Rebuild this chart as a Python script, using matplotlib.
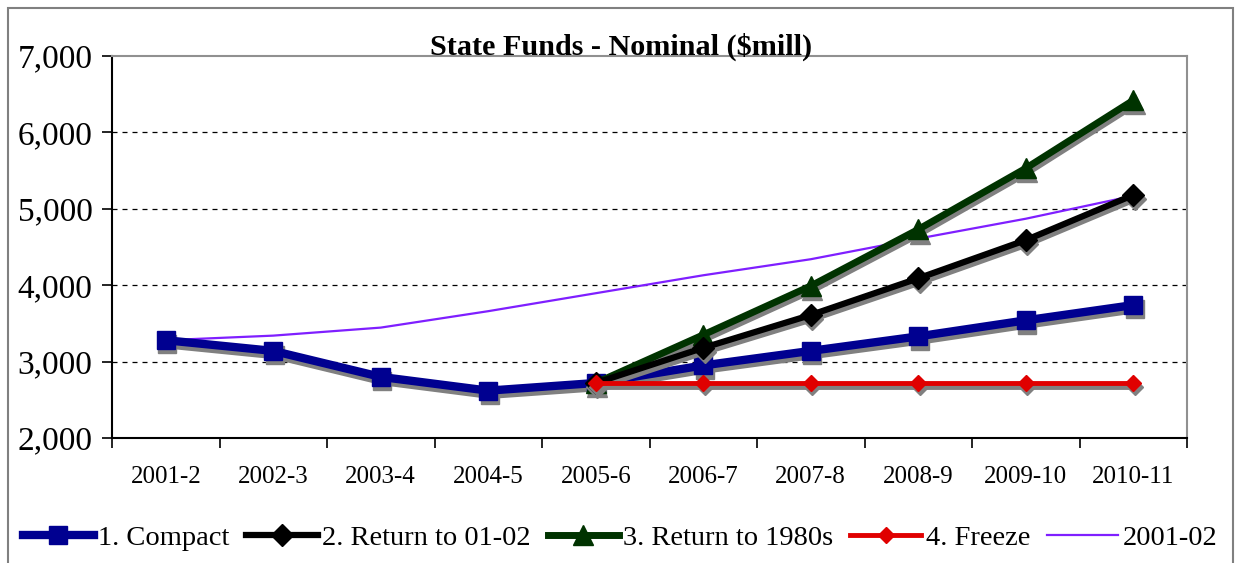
import numpy as np
import matplotlib
matplotlib.use("Agg")
import matplotlib.pyplot as plt
from matplotlib.ticker import FuncFormatter, FixedLocator
from matplotlib.patches import Rectangle
from matplotlib.transforms import ScaledTranslation

# Data ($ millions)
years = ["2001-2", "2002-3", "2003-4", "2004-5", "2005-6",
         "2006-7", "2007-8", "2008-9", "2009-10", "2010-11"]
compact = [3280, 3140, 2800, 2620, 2720, 2950, 3140, 3330, 3540, 3740]
return_0102 = [np.nan, np.nan, np.nan, np.nan, 2720, 3180, 3610, 4090, 4590, 5180]
return_1980s = [np.nan, np.nan, np.nan, np.nan, 2720, 3350, 3990, 4730, 5530, 6420]
freeze = [np.nan, np.nan, np.nan, np.nan, 2720, 2720, 2720, 2720, 2720, 2720]
base_2001 = [3280, 3340, 3445, 3660, 3895, 4130, 4340, 4610, 4870, 5170]

SERIF = ["Liberation Serif", "DejaVu Serif"]
plt.rcParams["font.family"] = SERIF

fig = plt.figure(figsize=(12.35, 5.63), dpi=100)
ax = fig.add_axes([112 / 1235, 1 - 438 / 563, (1187 - 112) / 1235, (438 - 56) / 563])

# outer chart border
fig.patches.append(Rectangle((8 / 1235, -0.01), (1233 - 8) / 1235, 1 - 8 / 563 + 0.01,
                             transform=fig.transFigure, fill=False,
                             edgecolor="#808080", linewidth=1.5))

x = np.arange(len(years))
# excel-style drop shadow: same series in gray, shifted right/down
shadow_tr = ax.transData + ScaledTranslation(1 / 72, -3 / 72, fig.dpi_scale_trans)


def series(y, color, lw, marker, ms, z, label):
    ax.plot(x, y, color="#808080", linewidth=lw, marker=marker, markersize=ms,
            zorder=z - 0.5, transform=shadow_tr)
    ax.plot(x, y, color=color, linewidth=lw, marker=marker, markersize=ms,
            zorder=z, label=label)


ax.plot(x, base_2001, color="#7F1FFF", linewidth=1.6, zorder=2, label="2001-02")
series(compact, "#000090", 6, "s", 13, 3, "1. Compact")
series(return_1980s, "#003300", 5, "^", 15, 4, "3. Return to 1980s")
series(return_0102, "black", 4.5, "D", 11, 5, "2. Return to 01-02")
series(freeze, "#E00000", 3.5, "D", 8, 6, "4. Freeze")

ax.set_xlim(-0.5, len(years) - 0.5)
ax.set_ylim(2000, 7000)
ax.set_yticks([2000, 3000, 4000, 5000, 6000, 7000])
ax.yaxis.set_major_formatter(FuncFormatter(lambda v, p: f"{int(v):,}"))
ax.tick_params(axis="y", labelsize=24, direction="out", length=7, width=1.2, pad=7)

# category boundaries as ticks, labels at centers
ax.xaxis.set_major_locator(FixedLocator(np.arange(-0.5, len(years), 1.0)))
ax.xaxis.set_minor_locator(FixedLocator(x))
ax.set_xticklabels([], minor=False)
ax.set_xticklabels(years, minor=True)
ax.tick_params(axis="x", which="major", direction="out", length=7, width=1.2)
ax.tick_params(axis="x", which="minor", length=0, labelsize=18, pad=20)

for g in [3000, 4000, 5000, 6000]:
    ax.axhline(g, color="black", linestyle=(0, (4, 4)), linewidth=0.9, zorder=1)

ax.spines["left"].set_color("black")
ax.spines["bottom"].set_color("black")
ax.spines["top"].set_color("#909090")
ax.spines["right"].set_color("#909090")
for s in ax.spines.values():
    s.set_linewidth(1.5)

fig.text(621 / 1235, 1 - 47 / 563, "State Funds - Nominal (\\$mill)", ha="center",
         va="center", fontsize=21.7, fontweight="bold", family=SERIF)

handles, labels = ax.get_legend_handles_labels()
order = ["1. Compact", "2. Return to 01-02", "3. Return to 1980s", "4. Freeze", "2001-02"]
hmap = dict(zip(labels, handles))
fig.legend([hmap[k] for k in order], order, loc="center",
           bbox_to_anchor=(620 / 1235, 1 - 538 / 563), ncol=5, frameon=False,
           prop={"family": SERIF, "size": 20.5}, handlelength=2.5,
           handletextpad=0.15, columnspacing=0.6)

fig.savefig("out.png", dpi=100)
